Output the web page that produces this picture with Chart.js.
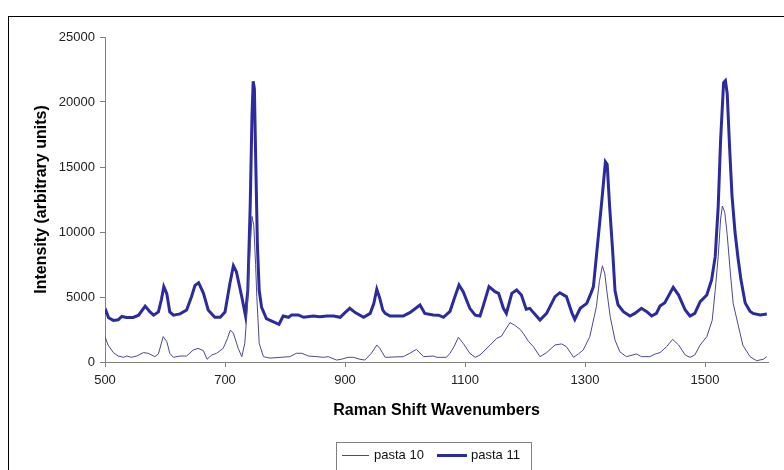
<!DOCTYPE html>
<html>
<head>
<meta charset="UTF-8">
<title>Raman spectra - pasta 10 / pasta 11</title>
<style>
  html, body { margin: 0; padding: 0; background: #fff; }
  #wrap { width: 784px; height: 470px; position: relative; }
</style>
</head>
<body>
<div id="wrap"><canvas id="chart"></canvas></div>

<script src="https://cdn.jsdelivr.net/npm/chart.js@4.4.0/dist/chart.umd.min.js"></script>
<script>
// ---- data ----
const seriesNames = ["pasta 10", "pasta 11"];

const xTicks = [500, 700, 900, 1100, 1300, 1500];
const yTicks = [0, 5000, 10000, 15000, 20000, 25000];

// pasta 10 (thin line): wavenumber / intensity
const pasta10X = [500, 505, 514, 522, 531, 536, 544, 553, 564, 572, 583, 589, 597, 603, 608, 614, 625, 636, 647, 655,
  664, 670, 678, 686, 697, 704, 709, 714, 722, 728, 733, 737, 741, 745, 748, 751, 753, 757, 764, 769,
  775, 808, 819, 828, 839, 853, 864, 872, 886, 894, 905, 914, 925, 933, 944, 953, 958, 967, 997, 1008,
  1019, 1031, 1047, 1053, 1069, 1075, 1082, 1089, 1097, 1108, 1117, 1125, 1142, 1153, 1161, 1167, 1175, 1183, 1192, 1197,
  1206, 1214, 1225, 1236, 1250, 1261, 1269, 1281, 1289, 1297, 1308, 1319, 1324, 1329, 1333, 1336, 1342, 1350, 1358, 1369,
  1386, 1394, 1408, 1417, 1425, 1436, 1446, 1456, 1467, 1475, 1483, 1492, 1503, 1512, 1517, 1522, 1526, 1529, 1533, 1537,
  1542, 1547, 1556, 1563, 1575, 1586, 1597, 1603];
const pasta10Y = [1950, 1310, 720, 460, 360, 460, 360, 460, 720, 670, 410, 620, 1950, 1570, 670, 360, 460, 460, 920, 1050,
  870, 210, 540, 670, 1050, 1800, 2460, 2210, 1050, 410, 1440, 4000, 8000, 11200, 10500, 7500, 5030, 1440, 410, 360,
  300, 410, 670, 670, 460, 410, 360, 410, 150, 210, 360, 360, 210, 150, 670, 1310, 1050, 360, 410, 670,
  970, 410, 460, 360, 360, 670, 1200, 1900, 1440, 670, 360, 540, 1310, 1820, 2000, 2460, 3030, 2820, 2510, 2210,
  1570, 1180, 410, 720, 1310, 1390, 1180, 360, 620, 920, 1950, 4260, 6200, 7400, 6800, 5600, 3490, 1690, 790, 410,
  620, 410, 410, 620, 720, 1180, 1740, 1310, 540, 360, 540, 1310, 1950, 3200, 5500, 8100, 11000, 12000, 11500, 9800,
  7000, 4500, 2700, 1300, 410, 100, 210, 410];

// pasta 11 (thick line)
const pasta11X = [500, 502, 506, 514, 522, 528, 536, 547, 556, 567, 575, 581, 589, 594, 598, 603, 608, 614, 625, 636,
  644, 650, 656, 664, 672, 683, 692, 700, 708, 714, 719, 728, 734, 738, 742, 745, 747, 749, 751, 754,
  757, 761, 769, 778, 790, 797, 806, 811, 822, 831, 847, 858, 870, 881, 892, 900, 908, 917, 931, 942,
  948, 953, 958, 963, 967, 975, 997, 1008, 1014, 1025, 1033, 1047, 1056, 1064, 1075, 1083, 1090, 1097, 1108, 1117,
  1125, 1130, 1140, 1150, 1156, 1164, 1169, 1178, 1186, 1194, 1202, 1208, 1214, 1225, 1236, 1250, 1258, 1269, 1278, 1283,
  1292, 1303, 1310, 1314, 1320, 1328, 1334, 1337, 1341, 1346, 1350, 1355, 1364, 1375, 1383, 1394, 1403, 1411, 1419, 1425,
  1433, 1447, 1456, 1467, 1475, 1483, 1492, 1503, 1511, 1517, 1522, 1526, 1531, 1534, 1537, 1541, 1545, 1550, 1555, 1560,
  1567, 1575, 1580, 1592, 1603];
const pasta11Y = [3700, 3900, 3400, 3200, 3250, 3500, 3420, 3430, 3600, 4300, 3850, 3600, 3850, 4800, 5800, 5250, 3850, 3600, 3700, 4000,
  5000, 5900, 6100, 5300, 4000, 3450, 3450, 3850, 6000, 7400, 6950, 5000, 3600, 5500, 12000, 19000, 21600, 21000, 16000, 9000,
  5500, 4200, 3330, 3150, 2900, 3540, 3440, 3620, 3620, 3440, 3540, 3490, 3540, 3540, 3440, 3800, 4130, 3800, 3440, 3740,
  4500, 5600, 4900, 4000, 3740, 3540, 3540, 3800, 4000, 4380, 3740, 3620, 3600, 3440, 3900, 5000, 5920, 5410, 4130, 3600,
  3540, 4260, 5800, 5410, 5280, 4130, 3740, 5280, 5540, 5150, 4060, 4130, 3800, 3230, 3740, 5030, 5330, 5030, 3800, 3280,
  4130, 4510, 5300, 5800, 8600, 12400, 15400, 15200, 12000, 8600, 5500, 4400, 3870, 3540, 3740, 4130, 3870, 3540, 3740, 4310,
  4560, 5740, 5150, 4000, 3540, 3740, 4640, 5150, 6310, 8100, 11950, 17080, 21500, 21650, 20670, 16500, 12800, 10000, 8000, 6300,
  4540, 3900, 3740, 3620, 3690];

const thinColor = "#4a4a8c";
const thickColor = "#2b2b9e";

function toPoints(xs, ys) {
  return xs.map((x, i) => ({ x: x, y: ys[i] }));
}

// frame round the whole chart + white background
const framePlugin = {
  id: "frame",
  beforeDraw(chart) {
    const ctx = chart.ctx;
    ctx.save();
    ctx.fillStyle = "#fff";
    ctx.fillRect(0, 0, chart.width, chart.height);
    ctx.strokeStyle = "#000";
    ctx.lineWidth = 1;
    ctx.strokeRect(8.5, 16.5, 820, 500);
    ctx.restore();
  }
};

// boxed legend at the bottom, like Excel's
const legendPlugin = {
  id: "boxLegend",
  afterDraw(chart) {
    const ctx = chart.ctx;
    ctx.save();
    ctx.strokeStyle = "#808080";
    ctx.lineWidth = 1;
    ctx.strokeRect(336.5, 442.5, 195, 30);
    ctx.font = "13px 'Liberation Sans', Arial, sans-serif";
    ctx.fillStyle = "#111";
    ctx.textBaseline = "middle";
    const y = 455.5;
    ctx.strokeStyle = thinColor;
    ctx.lineWidth = 1;
    ctx.beginPath(); ctx.moveTo(342, y); ctx.lineTo(369, y); ctx.stroke();
    ctx.fillText(seriesNames[0], 374, y);
    ctx.strokeStyle = thickColor;
    ctx.lineWidth = 3;
    ctx.beginPath(); ctx.moveTo(437, y); ctx.lineTo(467, y); ctx.stroke();
    ctx.fillText(seriesNames[1], 471, y);
    ctx.restore();
  }
};

const tickFont = { family: "'Liberation Sans', Arial, sans-serif", size: 13 };
const titleFont = { family: "'Liberation Sans', Arial, sans-serif", size: 16, weight: "bold" };

new Chart(document.getElementById("chart"), {
  type: "line",
  data: {
    datasets: [
      {
        label: seriesNames[0],
        data: toPoints(pasta10X, pasta10Y),
        borderColor: thinColor,
        borderWidth: 1,
        pointRadius: 0,
        tension: 0,
        fill: false
      },
      {
        label: seriesNames[1],
        data: toPoints(pasta11X, pasta11Y),
        borderColor: thickColor,
        borderWidth: 3,
        pointRadius: 0,
        tension: 0,
        fill: false
      }
    ]
  },
  options: {
    responsive: true,
    maintainAspectRatio: false,
    animation: false,
    devicePixelRatio: 1,
    layout: { padding: { left: 8, top: 37, right: 16, bottom: 0 } },
    plugins: {
      legend: { display: false },
      tooltip: { enabled: false }
    },
    scales: {
      x: {
        type: "linear",
        min: 500,
        max: 1605,
        afterBuildTicks(scale) { scale.ticks = xTicks.map(v => ({ value: v })); },
        afterFit(scale) { scale.height = 108; },
        ticks: { font: tickFont, color: "#222", padding: 6, maxRotation: 0, callback: v => String(v) },
        grid: { drawOnChartArea: false, tickLength: 5, color: "#808080" },
        border: { color: "#808080" },
        title: {
          display: true,
          text: "Raman Shift Wavenumbers",
          font: titleFont,
          color: "#000",
          padding: { top: 4, bottom: 50 }
        }
      },
      y: {
        min: 0,
        max: 25000,
        afterBuildTicks(scale) { scale.ticks = yTicks.map(v => ({ value: v })); },
        afterFit(scale) { scale.width = 97; },
        ticks: { font: tickFont, color: "#222", padding: 5, callback: v => String(v) },
        grid: { drawOnChartArea: false, tickLength: 5, color: "#808080" },
        border: { color: "#808080" },
        title: {
          display: true,
          text: "Intensity (arbitrary units)",
          font: titleFont,
          color: "#000",
          padding: { top: 24, bottom: 0 }
        }
      }
    }
  },
  plugins: [framePlugin, legendPlugin]
});
</script>
</body>
</html>
